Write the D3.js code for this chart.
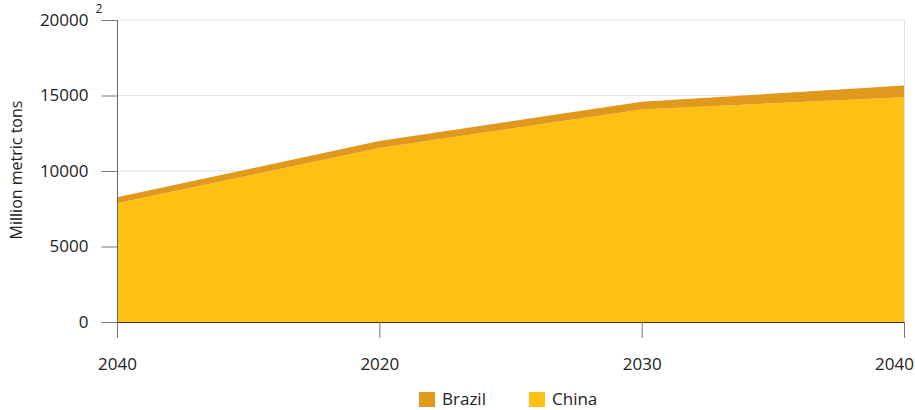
<!DOCTYPE html>
<html><head><meta charset="utf-8">
<script src="https://cdn.jsdelivr.net/npm/d3@7"></script>
<style>body{margin:0;background:#fff;font-family:"Open Sans","Noto Sans",sans-serif;}</style>
</head><body><svg id="c" width="915" height="410"></svg>
<script>
const categories = ["2040a","2020","2030","2040b"];
const tickLabels = ["2040","2020","2030","2040"];
const china = [7860, 11520, 14080, 14880];
const brazil = [400, 460, 500, 790];
const seriesNames = ["Brazil","China"];
const yTicks = [0,5000,10000,15000,20000];

const svg = d3.select("#c");
const FONT = "Open Sans, Noto Sans, sans-serif";
const m = {l:117, r:904, t:20, b:322};
const x = d3.scalePoint().domain(categories).range([m.l, m.r]);
const y = d3.scaleLinear().domain([0,20000]).range([m.b, m.t]);
const colors = {Brazil:"#E0991C", China:"#FDC113"};

// gridlines
svg.append("g").selectAll("line").data(yTicks.filter(d=>d>0)).join("line")
  .attr("x1",m.l).attr("x2",m.r).attr("y1",d=>y(d)).attr("y2",d=>y(d))
  .attr("stroke","#e0e0e0").attr("stroke-width",1);
svg.append("line").attr("x1",m.r+0.5).attr("x2",m.r+0.5).attr("y1",m.t).attr("y2",m.b)
  .attr("stroke","#e0e0e0");

const data = categories.map((c,i)=>({c, China:china[i], Brazil:brazil[i]}));
const stack = d3.stack().keys(["China","Brazil"])(data);
const area = d3.area().x(d=>x(d.data.c)).y0(d=>y(d[0])).y1(d=>y(d[1]));
svg.append("g").selectAll("path").data(stack).join("path")
  .attr("d",area).attr("fill",d=>colors[d.key]);

// x baseline
svg.append("line").attr("x1",m.l).attr("x2",m.r).attr("y1",m.b+0.5).attr("y2",m.b+0.5)
  .attr("stroke","#3b2e14").attr("stroke-width",1.2);

// y axis
const yAxis = svg.append("g").attr("transform",`translate(${m.l+0.5},0)`)
  .call(d3.axisLeft(y).tickValues(yTicks).tickSize(16).tickPadding(13).tickFormat(d3.format("d")));
yAxis.select(".domain").remove();
yAxis.selectAll(".tick line").attr("stroke","#777");
yAxis.selectAll("text").attr("font-size",17).attr("fill","#222").attr("font-family",FONT);
svg.append("line").attr("x1",m.l+0.5).attr("x2",m.l+0.5).attr("y1",m.t).attr("y2",m.b+16).attr("stroke","#666");

// x axis
const xAxis = svg.append("g").attr("transform",`translate(0,${m.b})`)
  .call(d3.axisBottom(x).tickSize(16).tickPadding(20).tickFormat((d,i)=>tickLabels[i]));
xAxis.select(".domain").remove();
xAxis.selectAll(".tick line").attr("stroke","#777");
xAxis.selectAll("text").attr("font-size",17).attr("fill","#222").attr("font-family",FONT)
  .attr("dx",(d,i)=> i===categories.length-1 ? -10 : 0);

// y label
svg.append("text").attr("transform","translate(22,170) rotate(-90)")
  .attr("text-anchor","middle").attr("font-size",16).attr("fill","#222").attr("font-family",FONT).text("Million metric tons");
svg.append("text").attr("x",99).attr("y",13).attr("text-anchor","middle").attr("font-size",12).attr("fill","#222").attr("font-family",FONT).text("2");

// legend
const lg = svg.append("g");
const lx = [419, 529];
seriesNames.forEach((s,i)=>{
  lg.append("rect").attr("x",lx[i]).attr("y",392).attr("width",16).attr("height",15).attr("fill",colors[s]);
  lg.append("text").attr("x",lx[i]+23).attr("y",405).attr("font-size",17).attr("fill","#222").attr("font-family",FONT).text(s);
});
</script></body></html>
